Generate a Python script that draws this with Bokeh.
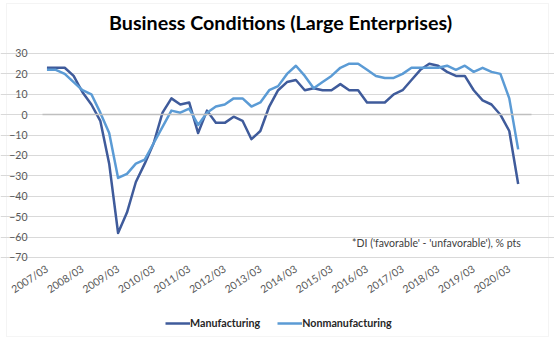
from bokeh.plotting import figure
from bokeh.models import (Range1d, FixedTicker, Legend, LegendItem, Label,
                          LinearAxis, BoxAnnotation, Grid)
from bokeh.embed import file_html
from bokeh.resources import INLINE

# ---- data (Tankan DI, large enterprises, quarterly 2007/03 - 2020/06) ----
years = list(range(2007, 2021))
quarters = [f"{y}/{m:02d}" for y in years for m in (3, 6, 9, 12)][:54]
tick_labels = [f"{y}/03" for y in years]

manufacturing = [23, 23, 23, 19, 11, 5, -3, -24,
                 -58, -48, -33, -24, -14, 1, 8, 5,
                 6, -9, 2, -4, -4, -1, -3, -12,
                 -8, 4, 12, 16, 17, 12, 13, 12,
                 12, 15, 12, 12, 6, 6, 6, 10,
                 12, 17, 22, 25, 24, 21, 19, 19,
                 12, 7, 5, 0, -8, -34]
nonmanufacturing = [22, 22, 20, 16, 12, 10, 1, -9,
                    -31, -29, -24, -22, -14, -6, 2, 1,
                    3, -5, 1, 4, 5, 8, 8, 4,
                    6, 12, 14, 20, 24, 19, 13, 16,
                    19, 23, 25, 25, 22, 19, 18, 18,
                    20, 23, 23, 23, 23, 24, 22, 24,
                    21, 23, 21, 20, 8, -17]
y_ticks = list(range(-70, 31, 10))

x = list(range(len(quarters)))

FONT = "Lato"
DARK = "#3F5B9B"
LIGHT = "#5B9BD5"

# plot area: categories -0.5..54.5 and values -70..30; the frame fills the whole
# canvas so that title, axes, note and legend sit where the reference has them
X_LO, X_HI = -5.224, 57.086
Y_LO, Y_HI = -111.67, 55.98

p = figure(width=554, height=342, output_backend="svg", toolbar_location=None,
           x_range=Range1d(X_LO, X_HI), y_range=Range1d(Y_LO, Y_HI),
           min_border=0, min_border_left=0, min_border_right=0,
           min_border_top=0, min_border_bottom=0,
           outline_line_color=None, x_axis_type=None, y_axis_type=None)
p.title.visible = False
p.xgrid.visible = False

# chart-area border
p.add_layout(BoxAnnotation(left=-4.55, right=56.41, top=54.5, bottom=-108.7,
                           fill_alpha=0, line_color="#d9d9d9", line_width=1))

# y axis (labels only) pinned to the left edge of the plot area
yaxis = LinearAxis(ticker=FixedTicker(ticks=y_ticks), fixed_location=-0.5,
                   axis_line_color=None, major_tick_line_color=None,
                   minor_tick_line_color=None, major_label_text_font=FONT,
                   major_label_text_font_size="10.5px",
                   major_label_text_color="#595959", major_label_standoff=9)
p.add_layout(yaxis, "left")

# horizontal gridlines
grid = Grid(dimension=1, ticker=FixedTicker(ticks=y_ticks), bounds=(-0.5, 54.5),
            grid_line_color="#d9d9d9", grid_line_width=1)
p.add_layout(grid)

# category axis line crossing at 0
zero_axis = LinearAxis(fixed_location=0, bounds=(-0.5, 54.5),
                       ticker=FixedTicker(ticks=[]), axis_line_color="#bfbfbf",
                       axis_line_width=1.3, major_tick_line_color=None,
                       minor_tick_line_color=None, major_label_text_alpha=0)
p.add_layout(zero_axis, "below")

# category labels at the bottom of the plot area
xaxis = LinearAxis(fixed_location=-70,
                   ticker=FixedTicker(ticks=[4 * i for i in range(len(tick_labels))]),
                   major_label_overrides={4 * i: t for i, t in enumerate(tick_labels)},
                   axis_line_color=None, major_tick_line_color=None,
                   minor_tick_line_color=None,
                   major_label_orientation=0.58,
                   major_label_text_font=FONT, major_label_text_font_size="10.5px",
                   major_label_text_color="#595959", major_label_standoff=4)
p.add_layout(xaxis, "below")

r1 = p.line(x, manufacturing, line_color=DARK, line_width=2.5, line_join="round")
r2 = p.line(x, nonmanufacturing, line_color=LIGHT, line_width=2.5, line_join="round")

title = Label(x=26.27, y=45.2, text="Business Conditions (Large Enterprises)",
              text_align="center", text_baseline="middle", text_font=FONT,
              text_font_style="bold", text_font_size="19.7px", text_color="#000000")
p.add_layout(title)

note = Label(x=53.3, y=-65.8, text="*DI ('favorable' - 'unfavorable'), % pts",
             text_align="right", text_font=FONT, text_font_size="10.5px",
             text_color="#404040")
p.add_layout(note)

legend = Legend(items=[LegendItem(label="Manufacturing", renderers=[r1]),
                       LegendItem(label="Nonmanufacturing", renderers=[r2])],
                orientation="horizontal", location=(165, 13),
                label_text_font=FONT, label_text_font_size="10.7px",
                label_text_font_style="bold", label_text_color="#262626",
                glyph_width=25, glyph_height=10, label_standoff=0, spacing=17,
                padding=0, margin=0, border_line_color=None,
                background_fill_alpha=0)
p.add_layout(legend)

open("out.html", "w").write(file_html(p, INLINE))
